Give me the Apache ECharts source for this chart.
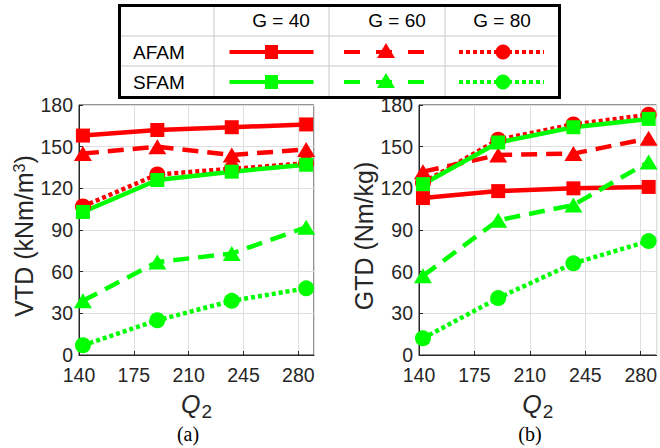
<!DOCTYPE html>
<html>
<head>
<meta charset="utf-8">
<style>
  html, body { margin: 0; padding: 0; background: #fff; }
  #chart { width: 660px; height: 448px; }
</style>
<script src="https://cdn.jsdelivr.net/npm/echarts@6/dist/echarts.min.js"></script>
</head>
<body>
<div id="chart"></div>
<script>
var q2 = [142.5, 190, 237.5, 285];
var xTicks = [140, 175, 210, 245, 280];

// (a) VTD
var vtdAfam40 = [158, 162, 164, 166];
var vtdAfam60 = [145, 150, 144, 148];
var vtdAfam80 = [107, 130, 134, 138];
var vtdSfam40 = [103, 126, 132, 137];
var vtdSfam60 = [39, 67, 73, 92];
var vtdSfam80 = [7, 25, 39, 48];

// (b) GTD
var gtdAfam40 = [113, 118, 120, 121];
var gtdAfam60 = [132, 144, 145, 156];
var gtdAfam80 = [124, 155, 166, 173];
var gtdSfam40 = [123, 153, 164, 170];
var gtdSfam60 = [57, 97, 108, 139];
var gtdSfam80 = [12, 41, 66, 82];

var groups = ['G = 40', 'G = 60', 'G = 80'];
var methods = ['AFAM', 'SFAM'];

(function() {
  var ink = '#262626';
  var gridColor = '#dedede';
  var red = '#ff0000';
  var green = '#00ff00';
  var sans = 'Liberation Sans, Arial, Helvetica, sans-serif';
  var serif = 'Liberation Serif, Times New Roman, serif';

  var lineTypes = ['solid', [16, 9], [4, 3]];
  var symbols = ['rect', 'triangle', 'circle'];
  var symbolSizes = [14, [18, 15], 16];

  var chart = echarts.init(document.getElementById('chart'), null, { renderer: 'svg' });

  function xAxisFor(idx) {
    return {
      type: 'value',
      gridIndex: idx,
      min: xTicks[0],
      max: 290,
      interval: 35,
      name: '{q|Q}{s|2}',
      nameLocation: 'middle',
      nameGap: 31,
      nameTextStyle: {
        rich: {
          q: { fontSize: 25, fontStyle: 'italic', color: ink, fontFamily: sans },
          s: { fontSize: 19, color: ink, fontFamily: sans, padding: [16, 0, 0, 1] }
        }
      },
      axisLine: { show: true, onZero: false, lineStyle: { color: ink, width: 1 } },
      axisTick: { show: true, inside: true, length: 4, lineStyle: { color: ink } },
      axisLabel: { color: ink, fontSize: 19.5, lineHeight: 20, fontFamily: sans, margin: 10, showMaxLabel: false },
      splitLine: { show: true, lineStyle: { color: gridColor, width: 1 } }
    };
  }

  function yAxisFor(idx, name, gap) {
    return {
      type: 'value',
      gridIndex: idx,
      min: 0,
      max: 180,
      interval: 30,
      name: name,
      nameLocation: 'middle',
      nameRotate: 90,
      nameGap: gap,
      nameTextStyle: {
        color: ink,
        fontSize: 25,
        fontFamily: sans,
        padding: [0, 12, 0, 0],
        rich: { sup: { fontSize: 16, color: ink, fontFamily: sans, padding: [0, 0, 10, 0] } }
      },
      axisLine: { show: true, lineStyle: { color: ink, width: 1 } },
      axisTick: { show: true, inside: true, length: 4, lineStyle: { color: ink } },
      axisLabel: { color: ink, fontSize: 19.5, lineHeight: 20, fontFamily: sans, margin: 6 },
      splitLine: { show: true, lineStyle: { color: gridColor, width: 1 } }
    };
  }

  function makeSeries(idx, name, values, color, k) {
    return {
      name: name,
      type: 'line',
      xAxisIndex: idx,
      yAxisIndex: idx,
      data: q2.map(function(x, i) { return [x, values[i]]; }),
      symbol: symbols[k],
      symbolSize: symbolSizes[k],
      showAllSymbol: true,
      lineStyle: { color: color, width: 4.5, type: lineTypes[k], cap: 'butt' },
      itemStyle: { color: color, borderWidth: 0 },
      emphasis: { disabled: true }
    };
  }

  var series = [];
  [[vtdAfam40, vtdAfam60, vtdAfam80, vtdSfam40, vtdSfam60, vtdSfam80],
   [gtdAfam40, gtdAfam60, gtdAfam80, gtdSfam40, gtdSfam60, gtdSfam80]].forEach(function(set, idx) {
    set.forEach(function(values, j) {
      var m = j < 3 ? 0 : 1;
      series.push(makeSeries(idx, methods[m] + ' ' + groups[j % 3], values, m === 0 ? red : green, j % 3));
    });
  });

  // legend table drawn as graphics
  var colLeft = [214, 329, 445];
  var colRight = [329, 445, 560];
  var headX = [281, 397, 502];
  var rowY = [52, 82];
  var legend = [
    { type: 'rect', shape: { x: 119.5, y: 5.5, width: 440, height: 92 }, style: { fill: '#fff', stroke: '#000', lineWidth: 3 }, z: 1 }
  ];
  colLeft.forEach(function(x) {
    legend.push({ type: 'line', shape: { x1: x, y1: 7, x2: x, y2: 96 }, style: { stroke: '#c8c8c8', lineWidth: 1 }, z: 2 });
  });
  [36, 66].forEach(function(y) {
    legend.push({ type: 'line', shape: { x1: 121, y1: y, x2: 558, y2: y }, style: { stroke: '#c8c8c8', lineWidth: 1 }, z: 2 });
  });
  groups.forEach(function(g, i) {
    legend.push({ type: 'text', x: headX[i], y: 20, style: { text: g, fill: '#000', font: '19px ' + sans, textAlign: 'center', textVerticalAlign: 'middle' }, z: 3 });
  });
  methods.forEach(function(m, r) {
    var color = r === 0 ? red : green;
    var y = rowY[r];
    legend.push({ type: 'text', x: 133, y: y, style: { text: m, fill: '#000', font: '19px ' + sans, textAlign: 'left', textVerticalAlign: 'middle' }, z: 3 });
    groups.forEach(function(g, i) {
      var cx = (colLeft[i] + colRight[i]) / 2;
      var x1 = cx - 42, x2 = cx + 42;
      var dash = i === 0 ? null : (i === 1 ? [16, 16] : [4, 3]);
      if (i === 1) { x1 = 344; x2 = 424; cx = 386; }
      if (i === 2) { x1 = 459; x2 = 544; cx = 503; }
      legend.push({ type: 'line', shape: { x1: x1, y1: y, x2: x2, y2: y }, style: { stroke: color, lineWidth: 4, lineDash: dash, lineCap: 'butt' }, z: 3 });
      if (i === 0) {
        legend.push({ type: 'rect', shape: { x: cx - 6.5, y: y - 7, width: 13, height: 14 }, style: { fill: color }, z: 4 });
      } else if (i === 1) {
        legend.push({ type: 'polygon', shape: { points: [[cx, y - 9], [cx + 9, y + 6], [cx - 9, y + 6]] }, style: { fill: color }, z: 4 });
      } else {
        legend.push({ type: 'circle', shape: { cx: cx, cy: y, r: 7.5 }, style: { fill: color }, z: 4 });
      }
    });
  });
  legend.push({ type: 'text', x: 188, y: 434, style: { text: '(a)', fill: '#000', font: '20px ' + serif, textAlign: 'center', textVerticalAlign: 'middle' } });
  legend.push({ type: 'text', x: 530, y: 434, style: { text: '(b)', fill: '#000', font: '20px ' + serif, textAlign: 'center', textVerticalAlign: 'middle' } });

  chart.setOption({
    animation: false,
    backgroundColor: '#fff',
    grid: [
      { left: 79, top: 105, width: 235, height: 250, show: true, borderColor: ink, borderWidth: 1, backgroundColor: 'transparent' },
      { left: 419, top: 105, width: 239, height: 250, show: true, borderColor: ink, borderWidth: 1, backgroundColor: 'transparent' }
    ],
    xAxis: [xAxisFor(0), xAxisFor(1)],
    yAxis: [yAxisFor(0, 'VTD (kNm/m{sup|3})', 40), yAxisFor(1, 'GTD (Nm/kg)', 42)],
    series: series,
    graphic: { elements: legend }
  });
})();
</script>
</body>
</html>
